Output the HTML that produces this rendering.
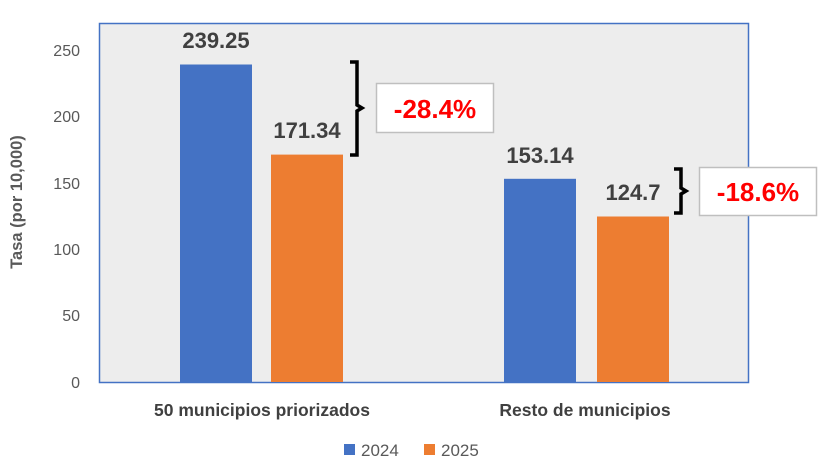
<!DOCTYPE html><html><head><style>body{margin:0;background:#fff}</style></head><body>
<svg width="826" height="465" xmlns="http://www.w3.org/2000/svg" font-family="Liberation Sans, sans-serif">
<rect x="99.5" y="23.5" width="649" height="359" fill="#EDEDED" stroke="#4472C4" stroke-width="1.5"/>
<g fill="#595959" font-size="16" text-anchor="end">
<text x="80" y="56">250</text><text x="80" y="122">200</text><text x="80" y="189">150</text><text x="80" y="255">100</text><text x="80" y="321">50</text><text x="80" y="388">0</text></g>
<text transform="translate(22,202) rotate(-90)" text-anchor="middle" font-size="16.5" font-weight="bold" fill="#595959">Tasa (por 10,000)</text>
<rect x="180" y="64.5" width="72" height="317.5" fill="#4472C4"/>
<rect x="271" y="154.6" width="72" height="227.4" fill="#ED7D31"/>
<rect x="504" y="178.8" width="72" height="203.2" fill="#4472C4"/>
<rect x="597" y="216.5" width="72" height="165.5" fill="#ED7D31"/>
<g font-size="22" font-weight="bold" fill="#404040" text-anchor="middle">
<text x="216" y="48">239.25</text><text x="307" y="138">171.34</text><text x="540" y="163">153.14</text><text x="633" y="200">124.7</text></g>
<g font-size="17.5" font-weight="bold" fill="#404040" text-anchor="middle">
<text x="262" y="416">50 municipios priorizados</text><text x="585" y="416">Resto de municipios</text></g>
<path d="M350 62 H357 V105 L362 108 L357 111 V155 H350" fill="none" stroke="#000" stroke-width="3.5"/>
<path d="M674 169 H681 V188 L686 191 L681 194 V213 H674" fill="none" stroke="#000" stroke-width="3.5"/>
<rect x="376.5" y="83.5" width="117" height="49" fill="#fff" stroke="#BFBFBF" stroke-width="1.5"/>
<rect x="699.5" y="167.5" width="117" height="48" fill="#fff" stroke="#BFBFBF" stroke-width="1.5"/>
<g font-size="26" font-weight="bold" fill="#FF0000" text-anchor="middle">
<text x="435" y="118">-28.4%</text><text x="758" y="201">-18.6%</text></g>
<rect x="344" y="444" width="11" height="11" fill="#4472C4"/>
<text x="361" y="456" font-size="17" fill="#595959">2024</text>
<rect x="424" y="444" width="11" height="11" fill="#ED7D31"/>
<text x="441" y="456" font-size="17" fill="#595959">2025</text>
</svg></body></html>
